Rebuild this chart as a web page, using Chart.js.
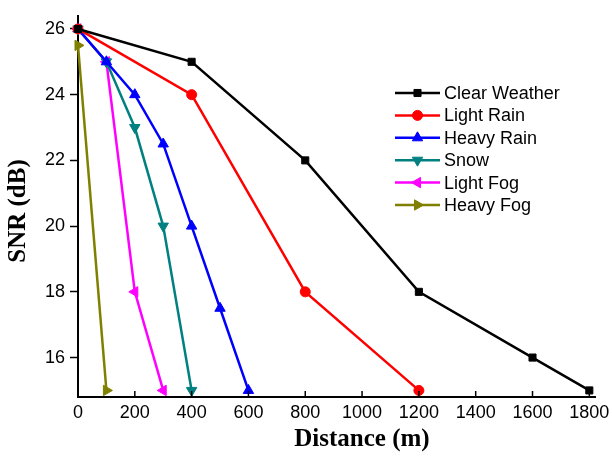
<!DOCTYPE html>
<html>
<head>
<meta charset="utf-8">
<script src="https://cdn.jsdelivr.net/npm/chart.js@4.4.1/dist/chart.umd.min.js"></script>
<style>
html,body{margin:0;padding:0;background:#fff;}
#wrap{width:612px;height:459px;position:relative;}
</style>
</head>
<body>
<div id="wrap"><canvas id="c" width="612" height="459"></canvas></div>
<script>
// ---- data ----
const seriesNames = ['Clear Weather','Light Rain','Heavy Rain','Snow','Light Fog','Heavy Fog'];
const distClear = [0,400,800,1200,1600,1800];
const snrClear  = [26,25,22,18,16,15];
const distLightRain = [0,400,800,1200];
const snrLightRain  = [26,24,18,15];
const distHeavyRain = [0,100,200,300,400,500,600];
const snrHeavyRain  = [26,25,24,22.5,20,17.5,15];
const distSnow = [0,100,200,300,400];
const snrSnow  = [26,25,23,20,15];
const distLightFog = [0,100,200,300];
const snrLightFog  = [26,25,18,15];
const distHeavyFog = [0,100];
const snrHeavyFog  = [25.5,15];
const xTicks = [0,200,400,600,800,1000,1200,1400,1600,1800];
const yTicks = [16,18,20,22,24,26];
const xTitle = 'Distance (m)';
const yTitle = 'SNR (dB)';

const colors = ['#000000','#ff0000','#0000ff','#008080','#ff00ff','#808000'];
const styles = ['rect','circle','triangle','triangle','triangle','triangle'];
const rots = [0,0,0,180,-90,90];
const radii = [5,5,6,6,6,6];

function pts(xs, ys){ return xs.map((x,i)=>({x:x,y:ys[i]})); }
const allData = [
  pts(distClear,snrClear), pts(distLightRain,snrLightRain), pts(distHeavyRain,snrHeavyRain),
  pts(distSnow,snrSnow), pts(distLightFog,snrLightFog), pts(distHeavyFog,snrHeavyFog)
];

const datasets = allData.map((d,i)=>({
  label: seriesNames[i], data: d,
  borderColor: colors[i], backgroundColor: colors[i],
  borderWidth: 2.5, pointStyle: styles[i], pointRotation: rots[i],
  pointRadius: radii[i], pointBorderWidth: 1, pointBackgroundColor: colors[i], pointBorderColor: colors[i],
  tension: 0, clip: false
}));

const sansFont = "'Liberation Sans', Arial, sans-serif";
const serifFont = "'Liberation Serif', 'Times New Roman', serif";

function drawMarker(ctx, style, rot, r, x, y, color){
  ctx.save();
  ctx.fillStyle = color; ctx.strokeStyle = color; ctx.lineWidth = 1;
  if (Chart.helpers && Chart.helpers.drawPoint){
    Chart.helpers.drawPoint(ctx, {pointStyle: style, rotation: rot, radius: r, borderWidth: 1}, x, y);
  }
  ctx.restore();
}

const extras = {
  id: 'extras',
  afterDraw(chart){
    const ctx = chart.ctx;
    const xs = chart.scales.x, ys = chart.scales.y;
    ctx.save();
    // inward ticks on x axis
    ctx.strokeStyle = '#000'; ctx.lineWidth = 1.5;
    xTicks.forEach(v=>{
      const px = xs.getPixelForValue(v);
      ctx.beginPath(); ctx.moveTo(px, ys.bottom); ctx.lineTo(px, ys.bottom-6); ctx.stroke();
    });
    // axis titles
    ctx.fillStyle = '#000';
    ctx.font = 'bold 25px ' + serifFont;
    ctx.textAlign = 'center'; ctx.textBaseline = 'middle';
    ctx.fillText(xTitle, 362, 440);
    ctx.save();
    ctx.translate(19, 211); ctx.rotate(-Math.PI/2);
    ctx.fillText(yTitle, 0, 0);
    ctx.restore();
    // legend
    const lx0 = 395, lx1 = 440, tx = 444, y0 = 93, dy = 22.4;
    ctx.font = '18px ' + sansFont;
    ctx.textAlign = 'left'; ctx.textBaseline = 'middle';
    chart.data.datasets.forEach((ds,i)=>{
      const y = y0 + i*dy;
      ctx.strokeStyle = ds.borderColor; ctx.lineWidth = 2.5;
      ctx.beginPath(); ctx.moveTo(lx0,y); ctx.lineTo(lx1,y); ctx.stroke();
      drawMarker(ctx, ds.pointStyle, ds.pointRotation, ds.pointRadius, (lx0+lx1)/2, y, ds.borderColor);
      ctx.fillStyle = '#000';
      ctx.fillText(ds.label, tx, y+1);
    });
    ctx.restore();
  }
};

new Chart(document.getElementById('c'), {
  type: 'line',
  data: { datasets: datasets },
  options: {
    responsive: false, animation: false,
    layout: { padding: { left: 0, right: 17, top: 5, bottom: 0 } },
    plugins: { legend: { display: false }, tooltip: { enabled: false } },
    scales: {
      x: {
        type: 'linear', min: 0, max: 1820,
        afterBuildTicks(s){ s.ticks = xTicks.map(v=>({value:v})); },
        afterFit(s){ s.height = 62; s.paddingLeft = 0; s.paddingRight = 0; },
        grid: { display: true, drawOnChartArea: false, drawTicks: false },
        border: { display: true, color: '#000', width: 2 },
        ticks: { color: '#000', font: { size: 18, family: sansFont }, padding: 5, maxRotation: 0, autoSkip: false,
                 callback: v => String(v) }
      },
      y: {
        type: 'linear', min: 14.8, max: 26.4,
        afterBuildTicks(s){ s.ticks = yTicks.map(v=>({value:v})); },
        afterFit(s){ s.width = 78; },
        grid: { display: true, drawOnChartArea: false, drawTicks: true, tickLength: 8, color: '#000', tickWidth: 1.5 },
        border: { display: true, color: '#000', width: 2 },
        ticks: { color: '#000', font: { size: 18, family: sansFont }, padding: 5, callback: v => String(v) }
      }
    }
  },
  plugins: [extras]
});
</script>
</body>
</html>
